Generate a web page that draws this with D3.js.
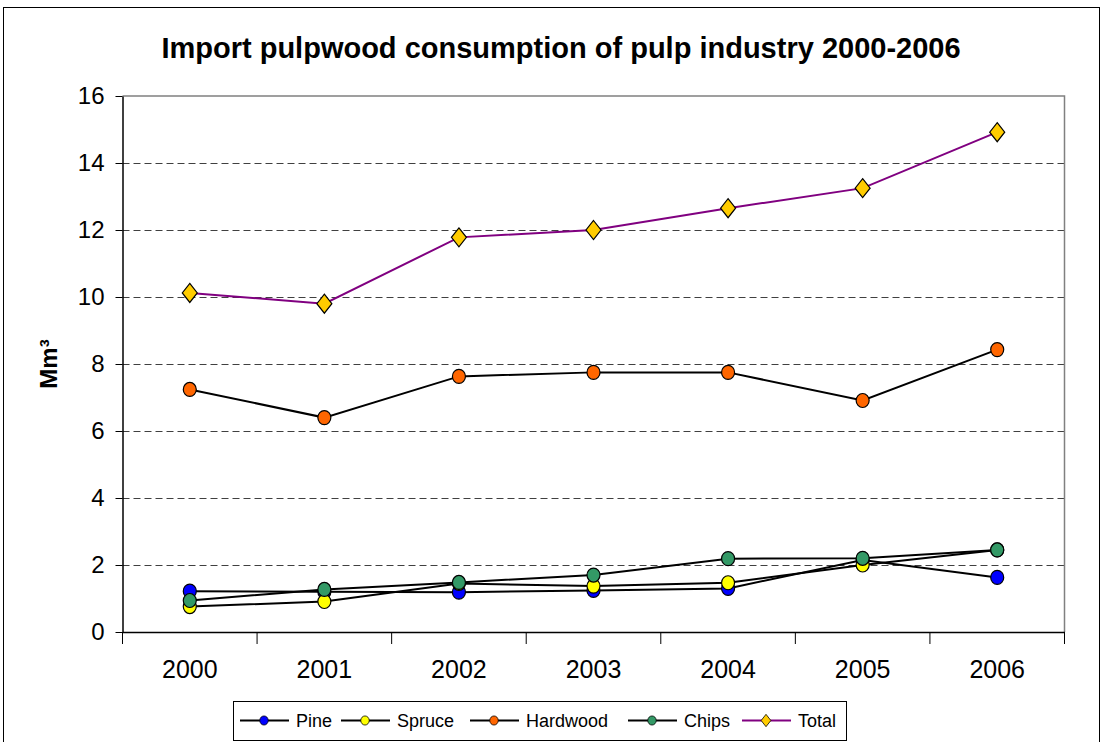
<!DOCTYPE html>
<html>
<head>
<meta charset="utf-8">
<script src="https://cdn.jsdelivr.net/npm/d3@7"></script>
<style>
  html, body { margin: 0; padding: 0; background: #fff; }
  svg { display: block; font-family: "Liberation Sans", Arial, sans-serif; }
</style>
</head>
<body>
<svg id="chart" width="1105" height="742"></svg>
<script>
// Import pulpwood consumption by assortment, million cubic metres
const years = ["2000", "2001", "2002", "2003", "2004", "2005", "2006"];
const pine     = [1.22, 1.20, 1.19, 1.24, 1.30, 2.15, 1.63];
const spruce   = [0.76, 0.91, 1.45, 1.37, 1.47, 2.00, 2.45];
const hardwood = [7.24, 6.40, 7.63, 7.75, 7.75, 6.91, 8.43];
const chips    = [0.94, 1.27, 1.48, 1.70, 2.19, 2.20, 2.45];
const total    = [10.12, 9.80, 11.78, 12.00, 12.65, 13.25, 14.92];
const yTicks   = [0, 2, 4, 6, 8, 10, 12, 14, 16];

const seriesList = [
  { name: "Pine",     values: pine,     fill: "#0000ff", line: "#000000", marker: "circle" },
  { name: "Spruce",   values: spruce,   fill: "#ffff00", line: "#000000", marker: "circle" },
  { name: "Hardwood", values: hardwood, fill: "#ff6600", line: "#000000", marker: "circle" },
  { name: "Chips",    values: chips,    fill: "#339966", line: "#000000", marker: "circle" },
  { name: "Total",    values: total,    fill: "#ffcc00", line: "#800080", marker: "diamond" }
];

const svg = d3.select("#chart");
const plot = { left: 122.5, right: 1064.5, top: 96, bottom: 632 };

// Outer chart frame
svg.append("rect")
  .attr("x", 3.5).attr("y", 7.5)
  .attr("width", 1096).attr("height", 760)
  .attr("fill", "#fff").attr("stroke", "#000").attr("stroke-width", 1);

const x = d3.scaleBand().domain(years).range([plot.left, plot.right]);
const y = d3.scaleLinear().domain([0, 16]).range([plot.bottom, plot.top]);

// Title
svg.append("text")
  .attr("x", 561).attr("y", 58)
  .attr("text-anchor", "middle")
  .attr("font-size", 29).attr("font-weight", "bold")
  .text("Import pulpwood consumption of pulp industry 2000-2006");

// Horizontal dashed gridlines
svg.append("g").selectAll("line")
  .data(yTicks.filter(t => t > 0 && t < 16))
  .join("line")
  .attr("x1", plot.left).attr("x2", plot.right)
  .attr("y1", d => Math.round(y(d)) + 0.5).attr("y2", d => Math.round(y(d)) + 0.5)
  .attr("stroke", "#404040").attr("stroke-width", 1)
  .attr("stroke-dasharray", "7,4");

// Top and right plot borders
svg.append("path")
  .attr("d", `M${plot.left},${y(16)}H${plot.right}V${plot.bottom}`)
  .attr("fill", "none").attr("stroke", "#808080").attr("stroke-width", 1.5);

// Y axis
const yAxis = svg.append("g")
  .attr("transform", `translate(${plot.left},0)`)
  .call(d3.axisLeft(y).tickValues(yTicks).tickSize(7).tickPadding(11).tickSizeOuter(0));
yAxis.select(".domain").attr("stroke", "#000").attr("stroke-width", 1.5);
yAxis.selectAll(".tick line").attr("stroke", "#000");
yAxis.selectAll(".tick text")
  .attr("font-size", 24).attr("fill", "#000")
  .attr("font-family", "Liberation Sans, Arial, sans-serif");

// X axis: ticks sit between categories
const xAxis = svg.append("g")
  .attr("transform", `translate(0,${plot.bottom})`)
  .call(d3.axisBottom(x).tickSize(0).tickPadding(28).tickSizeOuter(0));
xAxis.select(".domain").attr("stroke", "#000").attr("stroke-width", 1.5);
xAxis.selectAll(".tick text")
  .attr("font-size", 25).attr("fill", "#000")
  .attr("font-family", "Liberation Sans, Arial, sans-serif");
svg.append("g").selectAll("line")
  .data(years.concat(["end"]))
  .join("line")
  .attr("x1", (d, i) => plot.left + i * x.step())
  .attr("x2", (d, i) => plot.left + i * x.step())
  .attr("y1", plot.bottom).attr("y2", plot.bottom + 12)
  .attr("stroke", "#000").attr("stroke-width", 1);

// Y axis title
svg.append("text")
  .attr("transform", `translate(57,${(plot.top + plot.bottom) / 2}) rotate(-90)`)
  .attr("text-anchor", "middle")
  .attr("font-size", 24).attr("font-weight", "bold")
  .text("Mm³");

const cx = d => x(d) + x.bandwidth() / 2;
const diamond = "M0,-9.5L7.5,0L0,9.5L-7.5,0Z";

function drawMarker(sel, s) {
  if (s.marker === "diamond") {
    sel.append("path").attr("d", diamond)
      .attr("fill", s.fill).attr("stroke", "#000").attr("stroke-width", 1.2);
  } else {
    sel.append("ellipse").attr("rx", 6.5).attr("ry", 7)
      .attr("fill", s.fill).attr("stroke", "#000").attr("stroke-width", 1.2);
  }
}

// Lines first, then markers on top
const lineGen = d3.line().x((d, i) => cx(years[i])).y(d => y(d));
seriesList.forEach(s => {
  svg.append("path")
    .datum(s.values)
    .attr("d", lineGen)
    .attr("fill", "none")
    .attr("stroke", s.line).attr("stroke-width", 2);
});
seriesList.forEach(s => {
  svg.append("g").selectAll("g")
    .data(s.values)
    .join("g")
    .attr("transform", (d, i) => `translate(${cx(years[i])},${y(d)})`)
    .each(function () { drawMarker(d3.select(this), s); });
});

// Legend
const legend = svg.append("g");
legend.append("rect")
  .attr("x", 233.5).attr("y", 701.5)
  .attr("width", 613).attr("height", 39)
  .attr("fill", "#fff").attr("stroke", "#000").attr("stroke-width", 1);
const legendX = [240, 341, 470, 628, 742];
seriesList.forEach((s, i) => {
  const g = legend.append("g").attr("transform", `translate(${legendX[i]},720.5)`);
  g.append("line").attr("x1", 0).attr("x2", 49).attr("y1", 0).attr("y2", 0)
    .attr("stroke", s.line).attr("stroke-width", 2);
  const m = g.append("g").attr("transform", "translate(24,0) scale(0.65)");
  drawMarker(m, s);
  g.append("text").attr("x", 56).attr("y", 6.5)
    .attr("font-size", 18).text(s.name);
});
</script>
</body>
</html>
